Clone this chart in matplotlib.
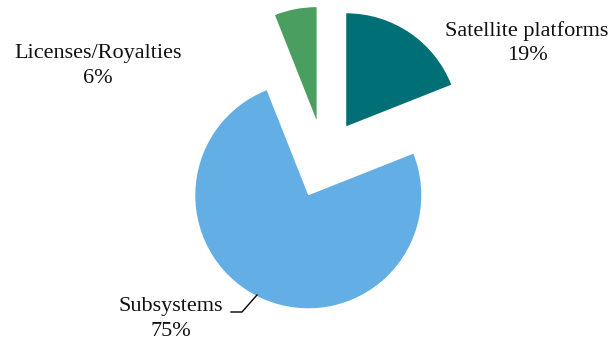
import matplotlib

matplotlib.use("Agg")
import matplotlib.pyplot as plt

# Revenue split by segment
segments = ["Satellite platforms", "Subsystems", "Licenses/Royalties"]
shares = [19, 75, 6]
colors = ["#016f76", "#63aee5", "#4a9e60"]

plt.rcParams["font.family"] = ["Liberation Serif", "DejaVu Serif"]

W, H, DPI = 616, 347, 100
R_PX = 113.0          # pie radius in pixels
CX, CY = 324.0, 159.0  # pie centre, pixels from top-left

fig = plt.figure(figsize=(W / DPI, H / DPI), dpi=DPI)
ax = fig.add_axes([0, 0, 1, 1])

ax.pie(
    shares,
    colors=colors,
    startangle=90,
    counterclock=False,
    explode=[0.35] * len(shares),
    radius=1.0,
    wedgeprops={"linewidth": 0},
)

# pie() resets the limits, so fix them afterwards
ax.set_xlim(-CX / R_PX, (W - CX) / R_PX)
ax.set_ylim(-(H - CY) / R_PX, CY / R_PX)
ax.set_aspect("equal")
ax.axis("off")


def px(x, y):
    """pixel (from top-left) -> data coords"""
    return (x - CX) / R_PX, (CY - y) / R_PX


label_pos = {
    "Satellite platforms": (527, 43),
    "Subsystems": (171, 319),
    "Licenses/Royalties": (98, 66),
}
for name, share in zip(segments, shares):
    x, y = px(*label_pos[name])
    ax.text(x, y, f"{name}\n{share}%", ha="center", va="center",
            fontsize=16, linespacing=1.4, color="#111111")

# leader line for the big slice
lx, ly = zip(px(231, 312), px(242, 312), px(257, 295))
ax.plot(lx, ly, color="black", lw=1.0)

fig.savefig("out.png", dpi=DPI)
